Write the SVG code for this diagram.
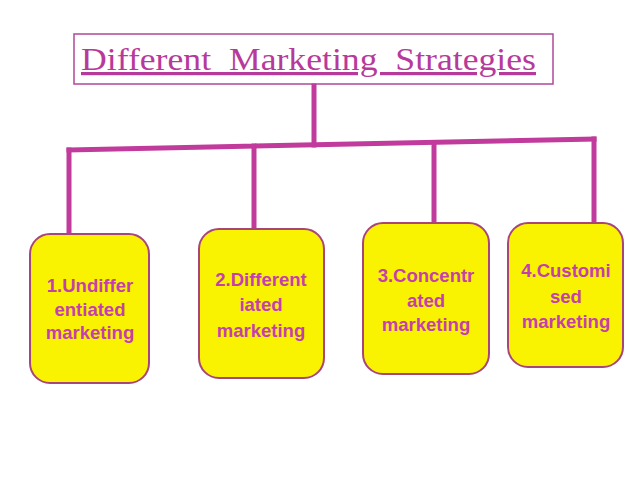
<svg xmlns="http://www.w3.org/2000/svg" width="638" height="479" viewBox="0 0 638 479">
<style>
.box{fill:#f9f200;stroke:#a8457a;stroke-width:2}
.lbl{font-family:"Liberation Sans",Arial,sans-serif;font-weight:bold;font-size:18.5px;fill:#c43fae;text-anchor:middle}
.con{stroke:#c13b9c;stroke-width:5;fill:none;stroke-linecap:square}
</style>
<rect width="638" height="479" fill="#ffffff"/>
<g id="title">
<rect x="74" y="34" width="479" height="50" fill="#ffffff" stroke="#b0479b" stroke-width="1.5"/>
<text x="81" y="70" font-family="'Liberation Serif','Times New Roman',serif" font-size="32" fill="#b73a9b" text-decoration="underline" textLength="455" lengthAdjust="spacingAndGlyphs" xml:space="preserve">Different  Marketing  Strategies</text>
</g>
<g id="connectors">
<line class="con" x1="314" y1="86" x2="314" y2="145"/>
<line class="con" x1="69" y1="150" x2="594" y2="139"/>
<line class="con" x1="69" y1="150" x2="69" y2="232"/>
<line class="con" x1="254" y1="146" x2="254" y2="227"/>
<line class="con" x1="434" y1="143" x2="434" y2="222"/>
<line class="con" x1="594" y1="139" x2="594" y2="222"/>
</g>
<g id="n1">
<rect class="box" x="30" y="234" width="119" height="149" rx="20"/>
<text class="lbl" x="90" y="292">1.Undiffer</text>
<text class="lbl" x="90" y="316">entiated</text>
<text class="lbl" x="90" y="339">marketing</text>
</g>
<g id="n2">
<rect class="box" x="199" y="229" width="125" height="149" rx="20"/>
<text class="lbl" x="261" y="286">2.Different</text>
<text class="lbl" x="261" y="311">iated</text>
<text class="lbl" x="261" y="337">marketing</text>
</g>
<g id="n3">
<rect class="box" x="363" y="223" width="126" height="151" rx="20"/>
<text class="lbl" x="426" y="282">3.Concentr</text>
<text class="lbl" x="426" y="307">ated</text>
<text class="lbl" x="426" y="331">marketing</text>
</g>
<g id="n4">
<rect class="box" x="508" y="223" width="115" height="144" rx="20"/>
<text class="lbl" x="566" y="277">4.Customi</text>
<text class="lbl" x="566" y="303">sed</text>
<text class="lbl" x="566" y="328">marketing</text>
</g>
</svg>
